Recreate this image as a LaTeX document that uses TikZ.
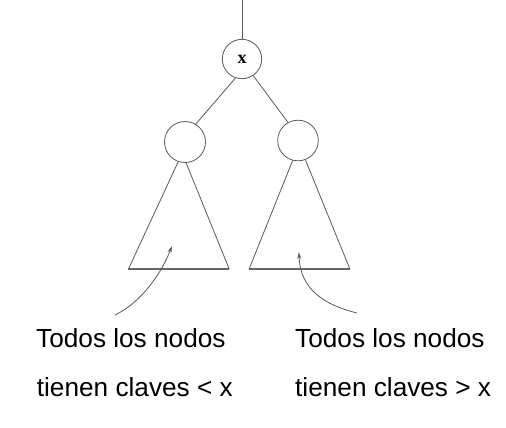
\documentclass[tikz,border=0pt]{standalone}
\usepackage{fontspec}
\setmainfont{Liberation Sans}
\newfontfamily\serifx{Liberation Serif}
\usetikzlibrary{arrows.meta}
\begin{document}
\begin{tikzpicture}[x=1bp,y=-1bp,
  edge/.style={draw=black!65,line width=0.8bp},
  base/.style={draw=black!60,line width=1.7bp},
  knot/.style={circle,draw=black!65,line width=0.8bp,inner sep=0pt},
  pointer/.style={draw=black!65,line width=0.8bp,-{Stealth[length=7bp,width=4bp]}},
  caption/.style={anchor=base west,inner sep=0pt,font=\fontsize{26.2bp}{30bp}\selectfont}]
\useasboundingbox (0,0) rectangle (506,427);
% nodes
\node[knot,minimum size=39.4bp,font=\serifx\bfseries\fontsize{18bp}{18bp}\selectfont] (root) at (242,59) {x};
\node[knot,minimum size=41bp] (l) at (185,142) {};
\node[knot,minimum size=40.6bp] (r) at (298,140.5) {};
\coordinate (top) at (242,0);
% triangle corners
\coordinate (lbl) at (128.3,269.3);
\coordinate (lbr) at (229.3,269.3);
\coordinate (rbl) at (249,269.3);
\coordinate (rbr) at (350,269.3);
% connectors
\draw[edge] (top) -- (root);
\draw[edge] (root.-109) -- (l.59);
\draw[edge] (root.-56) -- (r.119);
% left subtree
\draw[edge] (l.-109) -- (lbl);
\draw[edge] (l.-87) -- (lbr);
\draw[base] (lbl) -- (lbr);
% right subtree
\draw[edge] (r.-105) -- (rbl);
\draw[edge] (r.-69) -- (rbr);
\draw[base] (rbl) -- (rbr);
% arrows
\coordinate (la) at (115,315);
\coordinate (lt) at (172,246);
\coordinate (ra) at (357,313);
\coordinate (rt) at (299,252);
\draw[pointer] (la) .. controls (142,302) and (162,272) .. (lt);
\draw[pointer] (ra) .. controls (325,305) and (300,290) .. (rt);
% captions
\node[caption] (t1) at (36,347.3) {Todos los nodos};
\node[caption] (t2) at (36.7,396) {tienen claves < x};
\node[caption] (t3) at (295,347.3) {Todos los nodos};
\node[caption] (t4) at (295,396) {tienen claves > x};
\end{tikzpicture}
\end{document}
